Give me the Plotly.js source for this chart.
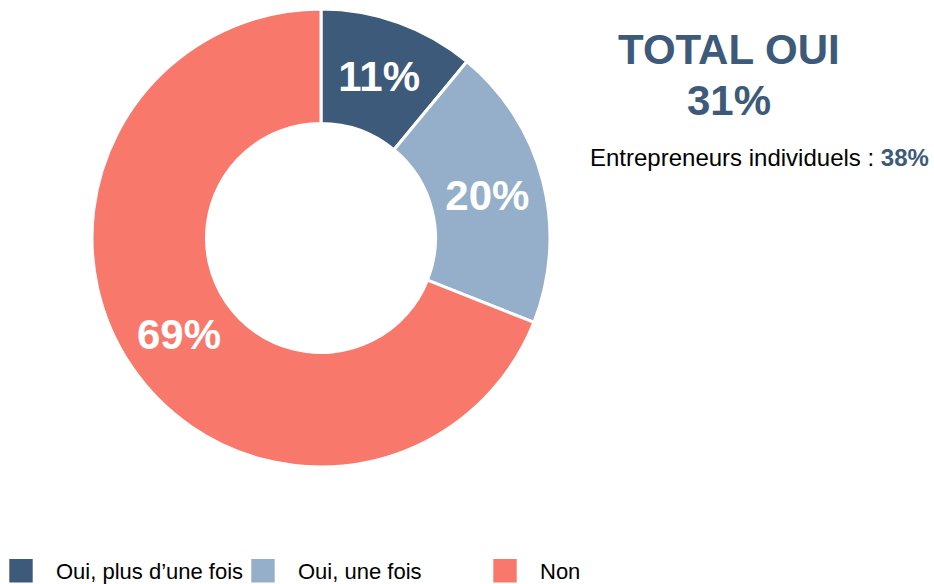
<!DOCTYPE html>
<html>
<head>
<meta charset="utf-8">
<script src="https://cdn.plot.ly/plotly-3.0.1.min.js"></script>
<style>
  html, body { margin: 0; padding: 0; background: #fff; }
  #myChart { width: 934px; height: 584px; }
</style>
</head>
<body>
<div id="myChart"></div>
<script>
const labels = ['Oui, plus d\u2019une fois', 'Oui, une fois', 'Non'];
const values = [11, 20, 69];
const colors = ['#3D5A7A', '#95AFCA', '#F8786C'];
const entrepreneursOui = 38;

const totalOui = values[0] + values[1];
const navy = '#3D5A7A';
const font = 'Arial, "Liberation Sans", sans-serif';

const trace = {
	type: 'pie',
	labels: labels,
	values: values,
	sort: false,
	direction: 'clockwise',
	rotation: 0,
	hole: 0.5,
	marker: { colors: colors, line: { color: '#fff', width: 3 } },
	texttemplate: '%{percent:.0%}',
	textposition: 'inside',
	insidetextorientation: 'horizontal',
	textfont: { family: font, size: 42, color: '#fff', weight: 'bold' },
	domain: { x: [92 / 934, 550 / 934], y: [1 - 467 / 584, 1 - 9 / 584] },
	hoverinfo: 'label+percent'
};

const layout = {
	width: 934,
	height: 584,
	margin: { l: 0, r: 0, t: 0, b: 0 },
	paper_bgcolor: '#fff',
	font: { family: font, color: '#000' },
	showlegend: true,
	legend: {
		orientation: 'h',
		x: 0, xanchor: 'left',
		y: 0, yanchor: 'bottom',
		font: { size: 22, color: '#000' },
		itemwidth: 46,
		entrywidth: 181,
		traceorder: 'normal'
	},
	annotations: [
		{ text: '<b>TOTAL OUI</b>', x: 729 / 934, y: 1 - 49 / 584, xref: 'paper', yref: 'paper',
		  xanchor: 'center', yanchor: 'middle', showarrow: false, font: { size: 42, color: navy } },
		{ text: '<b>' + totalOui + '%</b>', x: 729 / 934, y: 1 - 100 / 584, xref: 'paper', yref: 'paper',
		  xanchor: 'center', yanchor: 'middle', showarrow: false, font: { size: 42, color: navy } },
		{ text: 'Entrepreneurs individuels : <b><span style="color:' + navy + '">' + entrepreneursOui + '%</span></b>',
		  x: 759 / 934, y: 1 - 157 / 584, xref: 'paper', yref: 'paper',
		  xanchor: 'center', yanchor: 'middle', showarrow: false, font: { size: 24, color: '#000' } }
	]
};

// bigger legend squares, nudged a bit lower like the original
function tweakLegend(gd) {
	gd.querySelectorAll('.legendpoints path').forEach(function (p) {
		if (!p.dataset.orig) p.dataset.orig = p.getAttribute('transform') || '';
		p.setAttribute('transform', p.dataset.orig + ' translate(-7,8) scale(2.6)');
	});
	gd.querySelectorAll('.legendtext').forEach(function (t) {
		t.setAttribute('dy', '8');
	});
}

const gd = document.getElementById('myChart');
Plotly.newPlot(gd, [trace], layout, { displayModeBar: false, staticPlot: true }).then(function () {
	tweakLegend(gd);
	gd.on('plotly_afterplot', function () { tweakLegend(gd); });
	setTimeout(function () { tweakLegend(gd); }, 50);
});
</script>
</body>
</html>
